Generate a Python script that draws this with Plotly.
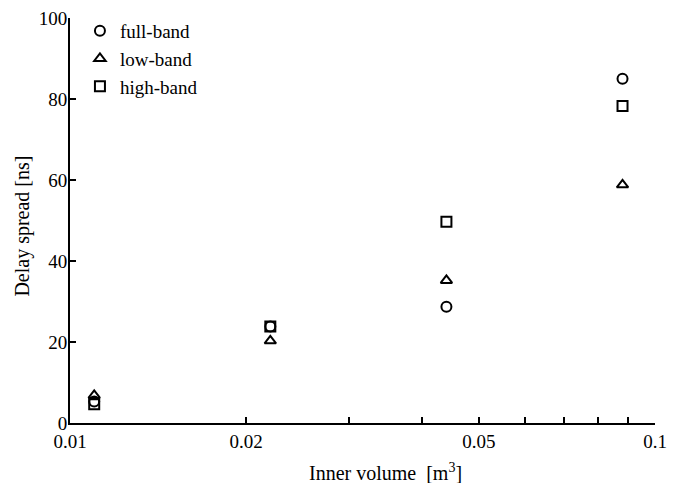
import plotly.graph_objects as go

volume = [0.011, 0.022, 0.044, 0.088]
full_band = [5.3, 23.8, 28.7, 85.0]
low_band = [6.8, 20.3, 35.2, 58.8]
high_band = [4.6, 23.8, 49.7, 78.3]

x_tickvals = [0.01, 0.02, 0.03, 0.04, 0.05, 0.06, 0.07, 0.08, 0.09, 0.1]
x_ticktext = ["0.01", "0.02", "", "", "0.05", "", "", "", "", "0.1"]
y_tickvals = [0, 20, 40, 60, 80, 100]
x_title = "Inner volume&nbsp; [m<sup>3</sup>]"
y_title = "Delay spread [ns]"

FONT = "Liberation Serif, Times New Roman, serif"
fig = go.Figure()
for name, vals, sym in [("full-band", full_band, "circle-open"),
                        ("low-band", low_band, "triangle-up-open"),
                        ("high-band", high_band, "square-open")]:
    fig.add_trace(go.Scatter(
        x=volume, y=vals, mode="markers", name=name,
        marker=dict(symbol=sym, size=10, color="black", line=dict(width=2, color="black")),
    ))

# page body has an 8px margin, so the figure is sized/placed to compensate
fig.update_layout(
    width=677, height=475,
    margin=dict(l=62, r=30, t=10, b=60, autoexpand=False),
    paper_bgcolor="white", plot_bgcolor="white",
    font=dict(family=FONT, size=19, color="black"),
    showlegend=True,
    legend=dict(x=0.017, y=1.015, xanchor="left", yanchor="top",
                bgcolor="rgba(0,0,0,0)", font=dict(family=FONT, size=19),
                itemwidth=30, tracegroupgap=0),
    xaxis=dict(type="log", range=[-2, -1], tickvals=x_tickvals, ticktext=x_ticktext,
               ticks="inside", ticklen=6, tickwidth=2, tickcolor="black",
               tickfont=dict(family=FONT, size=19, color="black"),
               ticklabeloverflow="allow",
               showline=True, linewidth=2, linecolor="black", showgrid=False, zeroline=False,
               automargin=False),
    yaxis=dict(range=[0, 100], tickvals=y_tickvals,
               ticks="inside", ticklen=6, tickwidth=2, tickcolor="black",
               tickfont=dict(family=FONT, size=19, color="black"),
               ticklabeloverflow="allow",
               showline=True, linewidth=2, linecolor="black", showgrid=False, zeroline=False,
               ticklabelstandoff=-3,
               automargin=False),
    annotations=[
        dict(text=x_title, xref="paper", yref="paper", x=0.5385, y=-0.121,
             xanchor="center", yanchor="middle", showarrow=False,
             font=dict(family=FONT, size=20, color="black")),
        dict(text=y_title, xref="paper", yref="paper", x=-0.0803, y=0.485,
             xanchor="center", yanchor="middle", textangle=-90, showarrow=False,
             font=dict(family=FONT, size=20, color="black")),
    ],
)

fig.write_html("out.html")
